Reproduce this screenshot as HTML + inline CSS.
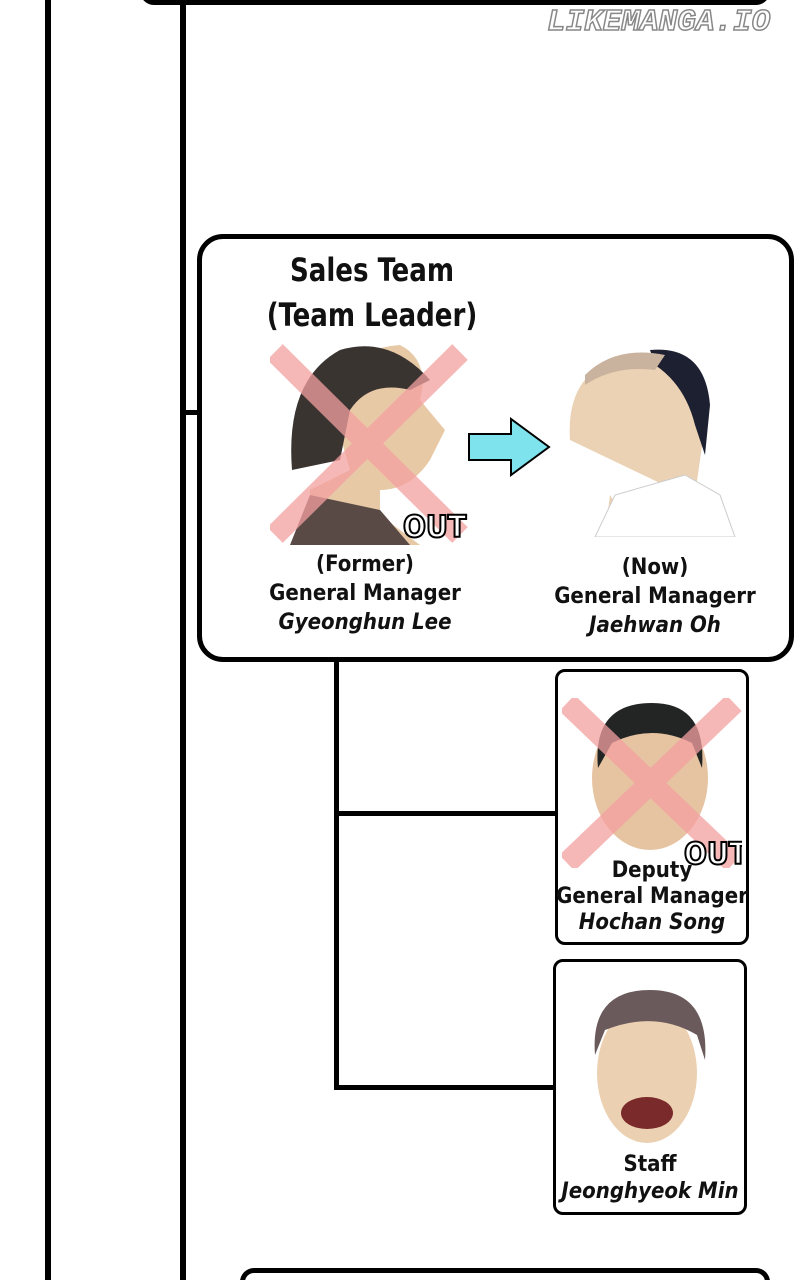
<!DOCTYPE html>
<html><head><meta charset="utf-8"><style>
html,body{margin:0;padding:0;background:#fff;width:800px;height:1280px;overflow:hidden;}
body{position:relative;font-family:"Liberation Sans","DejaVu Sans",sans-serif;}
.a{position:absolute;}
.t{position:absolute;text-align:center;color:#111;font-family:"DejaVu Sans Condensed","DejaVu Sans",sans-serif;font-weight:bold;}
</style></head><body>
<div class="a" style="left:45px;top:0;width:6px;height:1280px;background:#000"></div>
<div class="a" style="left:180px;top:0;width:6px;height:1280px;background:#000"></div>
<div class="a" style="left:140px;top:-30px;width:620px;height:25px;border:5px solid #000;border-radius:14px"></div>
<div class="a" style="left:183px;top:410px;width:18px;height:5px;background:#000"></div>
<div class="a" style="left:334px;top:660px;width:5px;height:430px;background:#000"></div>
<div class="a" style="left:334px;top:811px;width:222px;height:5px;background:#000"></div>
<div class="a" style="left:334px;top:1085px;width:220px;height:5px;background:#000"></div>
<div class="a" style="left:240px;top:1268px;width:520px;height:20px;border:5px solid #000;border-bottom:none;border-radius:14px 14px 0 0"></div>
<div class="a" style="left:547px;top:5px;font:bold italic 31px 'Liberation Mono',monospace;color:#fff;-webkit-text-stroke:1.5px #888;letter-spacing:0px">LIKEMANGA.IO</div>
<div class="a" style="left:197px;top:234px;width:587px;height:418px;border:5px solid #000;border-radius:26px"></div>
<div class="t" style="left:222px;top:252px;width:300px;font-size:29px;line-height:41px;transform:scaleY(1.1)">Sales Team<br>(Team Leader)</div>
<svg class="a" style="left:270px;top:340px" width="200" height="205">
<path d="M40 205 L40 150 L80 130 L60 60 Q70 10 130 5 Q160 20 150 60 L175 90 L160 120 Q140 150 110 150 L110 175 L150 205Z" fill="#e8c9a6"/>
<path d="M22 130 Q15 40 70 10 Q120 -5 160 40 L140 50 Q100 40 80 70 L70 120 Z" fill="#3a3431"/>
<path d="M20 205 L40 155 L110 170 L140 205Z" fill="#5a4a46"/>
<g stroke="#f4a0a0" stroke-width="22" opacity="0.75"><line x1="5" y1="12" x2="190" y2="195"/><line x1="190" y1="12" x2="5" y2="195"/></g>
<text x="133" y="197" font-family="DejaVu Sans Condensed" font-weight="bold" font-size="30" fill="#fff" stroke="#000" stroke-width="2">OUT</text>
</svg>
<svg class="a" style="left:466px;top:416px" width="86" height="62"><path d="M3 18 H45 V3 L83 31 L45 59 V44 H3Z" fill="#7fe3ee" stroke="#000" stroke-width="2"/></svg>
<svg class="a" style="left:555px;top:345px" width="185" height="192">
<path d="M15 95 Q10 20 80 10 Q140 10 150 80 L140 150 Q120 175 80 170 Q60 160 55 150 L50 190 L175 190 L160 150 L130 150Z" fill="#ecd2b4"/>
<path d="M95 5 Q150 0 155 60 L150 110 L140 80 Q130 40 100 20 Z" fill="#1d2030"/>
<path d="M30 30 Q60 0 110 10 L100 25 Q60 20 30 40Z" fill="#c9b39f"/>
<path d="M60 150 L40 192 L180 192 L165 150 L130 130Z" fill="#fff" stroke="#ccc"/>
</svg>
<div class="t" style="left:245px;top:550px;width:240px;font-size:22px;line-height:29px">(Former)<br>General Manager<br><i>Gyeonghun Lee</i></div>
<div class="t" style="left:535px;top:553px;width:240px;font-size:22px;line-height:29px">(Now)<br>General Managerr<br><i>Jaehwan Oh</i></div>
<div class="a" style="left:555px;top:669px;width:188px;height:270px;border:3px solid #000;border-radius:10px"></div>
<svg class="a" style="left:562px;top:698px" width="180" height="170">
<ellipse cx="88" cy="80" rx="58" ry="72" fill="#e6c3a1"/>
<path d="M36 70 Q30 5 90 5 Q145 5 140 70 L130 45 Q90 25 50 45Z" fill="#232524"/>
<g stroke="#f4a0a0" stroke-width="22" opacity="0.75"><line x1="5" y1="5" x2="172" y2="165"/><line x1="172" y1="5" x2="5" y2="165"/></g>
<text x="122" y="166" font-family="DejaVu Sans Condensed" font-weight="bold" font-size="30" fill="#fff" stroke="#000" stroke-width="2">OUT</text>
</svg>
<div class="t" style="left:555px;top:858px;width:194px;font-size:22px;line-height:26px">Deputy<br>General Manager<br><i>Hochan Song</i></div>
<div class="a" style="left:553px;top:959px;width:188px;height:250px;border:3px solid #000;border-radius:10px"></div>
<svg class="a" style="left:585px;top:985px" width="130" height="165">
<ellipse cx="62" cy="88" rx="50" ry="70" fill="#ecd0b2"/>
<path d="M10 70 Q5 5 65 5 Q125 5 120 75 L112 50 Q70 25 20 45Z" fill="#6b5a5c"/>
<ellipse cx="62" cy="128" rx="26" ry="16" fill="#7a2a2a"/>
</svg>
<div class="t" style="left:553px;top:1151px;width:194px;font-size:22px;line-height:27px">Staff<br><i>Jeonghyeok Min</i></div>
</body></html>
